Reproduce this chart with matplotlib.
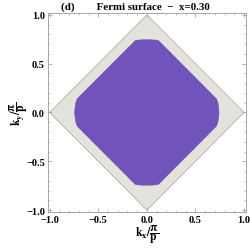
import numpy as np
import matplotlib
matplotlib.use("Agg")
import matplotlib.pyplot as plt
from matplotlib.ticker import MultipleLocator

# Brillouin zone corners (|kx| + |ky| = 1)
bz_kx = [0.0, 1.0, 0.0, -1.0]
bz_ky = [1.0, 0.0, -1.0, 0.0]

# Fermi surface boundary, first quadrant (units of pi/p)
fs_kx_q = [0.000, 0.050, 0.100, 0.120, 0.715, 0.730, 0.738, 0.742]
fs_ky_q = [0.745, 0.744, 0.740, 0.735, 0.140, 0.100, 0.050, 0.000]

title = "(d)        Fermi surface  \u2212  x=0.30"

plt.rcParams['font.family'] = ['Liberation Serif', 'DejaVu Serif']
plt.rcParams['mathtext.fontset'] = 'stix'

# mirror the quadrant to get the closed contour
q1x, q1y = np.array(fs_kx_q), np.array(fs_ky_q)
fs_x = np.concatenate([q1x, q1x[::-1][1:], -q1x[1:], -q1x[::-1][1:-1]])
fs_y = np.concatenate([q1y, -q1y[::-1][1:], -q1y[1:], q1y[::-1][1:-1]])

fig = plt.figure(figsize=(2.51, 2.53), dpi=100)
ax = fig.add_axes([0.19, 0.158, 0.79, 0.787])

ax.fill(bz_kx, bz_ky, facecolor='#e3e3dc', edgecolor='#b0b0aa', linewidth=0.6)
ax.fill(fs_x, fs_y, facecolor='#7053bb', edgecolor='#7053bb', linewidth=0.5)

ax.set_xlim(-1.02, 1.02)
ax.set_ylim(-1.02, 1.02)
ax.xaxis.set_major_locator(MultipleLocator(0.5))
ax.yaxis.set_major_locator(MultipleLocator(0.5))
ax.xaxis.set_minor_locator(MultipleLocator(0.1))
ax.yaxis.set_minor_locator(MultipleLocator(0.1))
ax.tick_params(which='both', direction='in', colors='#999999', labelcolor='black',
               top=True, right=True, labelsize=7.5, pad=2)
ax.tick_params(which='major', length=3, width=0.5)
ax.tick_params(which='minor', length=1.5, width=0.4)
fmt = plt.FuncFormatter(lambda v, p: f"{v:.1f}".replace('-', '\u2212'))
ax.xaxis.set_major_formatter(fmt)
ax.yaxis.set_major_formatter(fmt)
for lab in ax.get_xticklabels() + ax.get_yticklabels():
    lab.set_fontweight('bold')
for s in ax.spines.values():
    s.set_color('#999999')
    s.set_linewidth(0.6)

ax.text(0.065, 1.012, title, transform=ax.transAxes, ha='left', va='bottom',
        fontsize=7.8, fontweight='bold')
ax.set_xlabel(r'$\mathbf{k_x/\dfrac{\pi}{p}}$', fontsize=8.5, labelpad=-1)
ax.set_ylabel(r'$\mathbf{k_y/\dfrac{\pi}{p}}$', fontsize=8.5, labelpad=-3)

fig.savefig('out.png', dpi=100)
